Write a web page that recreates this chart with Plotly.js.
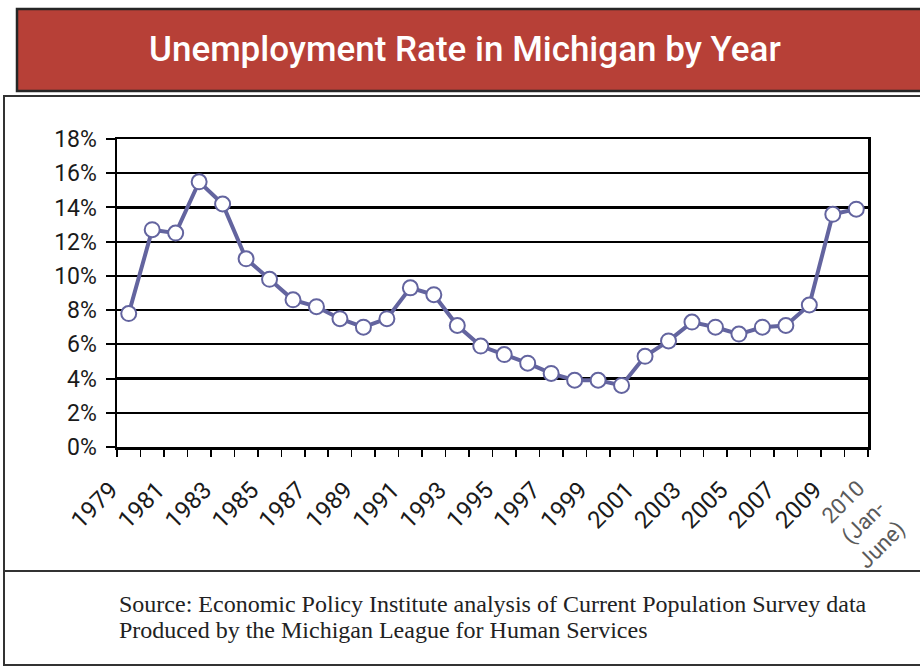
<!DOCTYPE html>
<html>
<head>
<meta charset="utf-8">
<script src="https://cdn.plot.ly/plotly-3.0.1.min.js"></script>
<style>
  html, body { margin: 0; padding: 0; background: #fff; }
  #chart { width: 920px; height: 667px; }
</style>
</head>
<body>
<div id="chart"></div>
<script>
// ---- data ----
const years = ['1979','1980','1981','1982','1983','1984','1985','1986','1987','1988',
  '1989','1990','1991','1992','1993','1994','1995','1996','1997','1998',
  '1999','2000','2001','2002','2003','2004','2005','2006','2007','2008',
  '2009','2010 (Jan-June)'];
const rates = [7.8, 12.7, 12.5, 15.5, 14.2, 11.0, 9.8, 8.6, 8.2, 7.5,
  7.0, 7.5, 9.3, 8.9, 7.1, 5.9, 5.4, 4.9, 4.3, 3.9,
  3.9, 3.6, 5.3, 6.2, 7.3, 7.0, 6.6, 7.0, 7.1, 8.3,
  13.6, 13.9];
const labelYears = ['1979','1981','1983','1985','1987','1989','1991','1993','1995',
  '1997','1999','2001','2003','2005','2007','2009'];
const lastCategory = '2010 (Jan-June)';
const lastLabel = '2010<br>(Jan-<br>June)';
const yTicks = [0, 2, 4, 6, 8, 10, 12, 14, 16, 18];
const titleText = 'Unemployment Rate in Michigan by Year';
const sourceLines = ['Source: Economic Policy Institute analysis of Current Population Survey data',
  'Produced by the Michigan League for Human Services'];

// ---- geometry helpers (pixel -> paper) ----
const W = 920, H = 667;
const L = 117, R = 868, T = 139, B = 447;
const px = x => (x - L) / (R - L);
const py = y => (B - y) / (B - T);

const xIdx = years.map((_, i) => i);
const boundaries = years.map((_, i) => i - 0.5).concat([years.length - 0.5]);
const mainTickVals = labelYears.map(y => years.indexOf(y));
const lastIdx = years.indexOf(lastCategory);

const lineColor = '#63649f';
const fam = 'Roboto, "DejaVu Sans", sans-serif';

const traces = [
  {
    x: xIdx, y: rates, text: years, type: 'scatter', mode: 'lines+markers',
    line: { color: lineColor, width: 4 },
    marker: { size: 15, color: '#ffffff', line: { color: lineColor, width: 2 } },
    hovertemplate: '%{text}: %{y}%<extra></extra>',
    showlegend: false
  },
  {
    x: [lastIdx], y: [rates[lastIdx]], xaxis: 'x2', yaxis: 'y',
    type: 'scatter', mode: 'markers', marker: { opacity: 0 },
    hoverinfo: 'skip', showlegend: false
  }
];

const layout = {
  width: W, height: H,
  margin: { l: L, r: W - R, t: T, b: H - B, pad: 0 },
  paper_bgcolor: '#ffffff', plot_bgcolor: '#ffffff',
  showlegend: false,
  xaxis: {
    range: [-0.5, years.length - 0.5],
    tickmode: 'array', tickvals: mainTickVals, ticktext: labelYears,
    ticks: '', tickangle: -45, tickfont: { family: fam, size: 24, color: '#1a1a1a' },
    ticklabelshift: -18, ticklabelstandoff: 17,
    showgrid: false, zeroline: false,
    showline: true, linecolor: '#000', linewidth: 2.5, mirror: true,
    minor: { tickmode: 'array', tickvals: boundaries, ticks: 'outside', ticklen: 7,
             tickwidth: 1.5, tickcolor: '#000', showgrid: false }
  },
  xaxis2: {
    overlaying: 'x', anchor: 'y', side: 'bottom',
    range: [-0.5, years.length - 0.5],
    tickmode: 'array', tickvals: [lastIdx], ticktext: [lastLabel],
    ticks: '', tickangle: -45,
    tickfont: { family: fam, size: 22, color: '#5a5a5a' },
    ticklabelshift: 2, ticklabelstandoff: 23,
    showgrid: false, zeroline: false, showline: false
  },
  yaxis: {
    range: [0, 18], tickmode: 'array', tickvals: yTicks,
    ticktext: yTicks.map(v => v + '%'),
    tickfont: { family: fam, size: 23, color: '#1a1a1a' },
    ticks: 'outside', ticklen: 9, tickwidth: 2, tickcolor: '#000',
    ticklabelstandoff: 4,
    showgrid: true, gridcolor: '#000', gridwidth: 2.2,
    zeroline: false, showline: true, linecolor: '#000', linewidth: 2.5, mirror: true
  },
  shapes: [
    { type: 'rect', xref: 'paper', yref: 'paper', x0: px(17), x1: px(930), y0: py(9), y1: py(91),
      fillcolor: '#b74037', line: { color: '#262626', width: 2.5 }, layer: 'below' },
    { type: 'rect', xref: 'paper', yref: 'paper', x0: px(4), x1: px(930), y0: py(96), y1: py(665),
      fillcolor: 'rgba(0,0,0,0)', line: { color: '#333', width: 2 }, layer: 'below' },
    { type: 'line', xref: 'paper', yref: 'paper', x0: px(4), x1: px(930), y0: py(571), y1: py(571),
      line: { color: '#333', width: 2 }, layer: 'below' }
  ],
  annotations: [
    { text: titleText, xref: 'paper', yref: 'paper', x: px(465), y: py(49),
      xanchor: 'center', yanchor: 'middle', showarrow: false,
      font: { family: fam, size: 35, color: '#ffffff', weight: 500 } },
    { text: sourceLines[0], xref: 'paper', yref: 'paper', x: px(117), y: py(604),
      xanchor: 'left', yanchor: 'middle', showarrow: false,
      font: { family: '"Liberation Serif", "Times New Roman", serif', size: 24, color: '#222' } },
    { text: sourceLines[1], xref: 'paper', yref: 'paper', x: px(117), y: py(630),
      xanchor: 'left', yanchor: 'middle', showarrow: false,
      font: { family: '"Liberation Serif", "Times New Roman", serif', size: 24, color: '#222' } }
  ]
};

Plotly.newPlot('chart', traces, layout, { staticPlot: true, displayModeBar: false });
</script>
</body>
</html>
